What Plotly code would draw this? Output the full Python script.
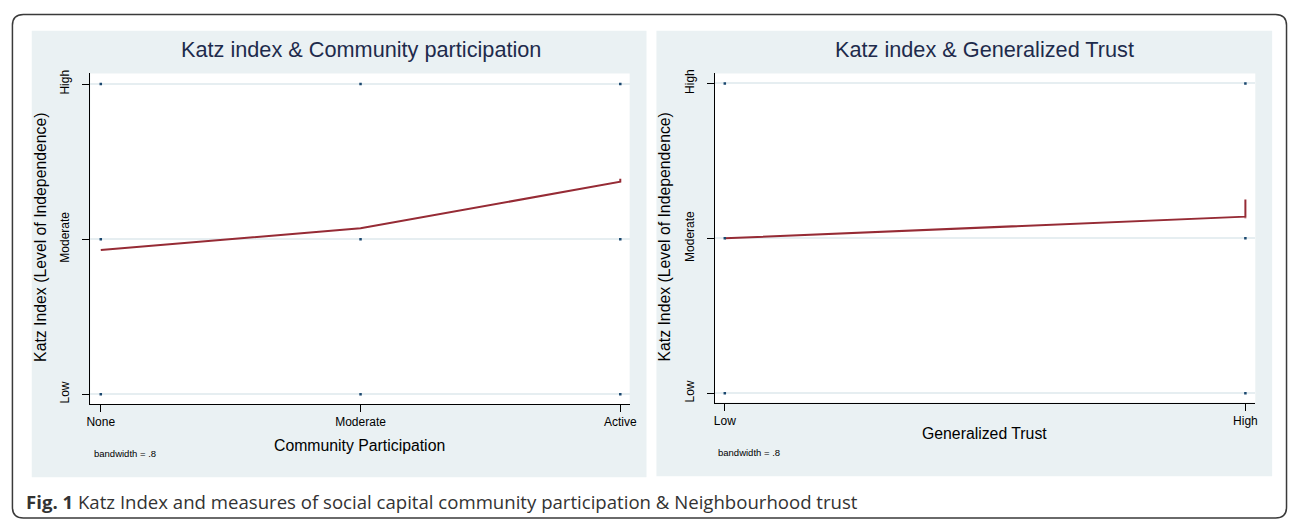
import plotly.graph_objects as go

# ---------------- data ----------------
levels = [1, 2, 3]
level_labels = ["Low", "Moderate", "High"]

cp_cats = [1, 2, 3]
cp_labels = ["None", "Moderate", "Active"]
cp_x = [1, 2, 3, 3]
cp_y = [1.93, 2.07, 2.37, 2.39]

gt_cats = [1, 2]
gt_labels = ["Low", "High"]
gt_x = [1, 2, 2, 2]
gt_y = [2.00, 2.14, 2.25, 2.13]

W, H = 1296, 520
def px(x): return x / W
def py(y): return 1 - y / H

LINE = "#962b35"
NAVY = "#1a476f"
PANEL = "#eaf1f3"
GRID = "#e6eef1"
FONT = "Arial"

fig = go.Figure()

# lowess lines
fig.add_trace(go.Scatter(x=cp_x, y=cp_y, mode="lines", line=dict(color=LINE, width=2),
                         xaxis="x", yaxis="y", showlegend=False, hoverinfo="skip"))
fig.add_trace(go.Scatter(x=gt_x, y=gt_y, mode="lines", line=dict(color=LINE, width=2),
                         xaxis="x2", yaxis="y2", showlegend=False, hoverinfo="skip"))

# tiny navy point markers at grid intersections
fig.add_trace(go.Scatter(x=[c for c in cp_cats for _ in levels], y=[l for _ in cp_cats for l in levels],
                         mode="markers", marker=dict(color=NAVY, size=2.5, symbol="square"),
                         xaxis="x", yaxis="y", showlegend=False, hoverinfo="skip"))
fig.add_trace(go.Scatter(x=[c for c in gt_cats for _ in levels], y=[l for _ in gt_cats for l in levels],
                         mode="markers", marker=dict(color=NAVY, size=2.5, symbol="square"),
                         xaxis="x2", yaxis="y2", showlegend=False, hoverinfo="skip"))

axis_common = dict(showline=True, linecolor="black", linewidth=1, ticks="outside", ticklen=7,
                   tickcolor="black", tickwidth=1, zeroline=False, mirror=False,
                   tickfont=dict(family=FONT, size=12, color="black"))

fig.update_layout(
    width=W, height=H, margin=dict(l=0, r=0, t=0, b=0),
    paper_bgcolor="white", plot_bgcolor="white",
    xaxis=dict(domain=[px(87), px(631)], range=[0.9595, 3.036], tickvals=cp_cats, ticktext=cp_labels,
               showgrid=False, anchor="y", **axis_common),
    yaxis=dict(domain=[py(403), py(70)], range=[0.938, 3.068], tickvals=levels, ticktext=level_labels,
               tickangle=-90, ticklabelstandoff=8, showgrid=True, gridcolor=GRID, gridwidth=1.5,
               anchor="x", **axis_common),
    xaxis2=dict(domain=[px(717), px(1262)], range=[0.981, 2.019], tickvals=gt_cats, ticktext=gt_labels,
                showgrid=False, anchor="y2", **axis_common),
    yaxis2=dict(domain=[py(401.7), py(70)], range=[0.94, 3.064], tickvals=levels, ticktext=level_labels,
                tickangle=-90, ticklabelstandoff=8, showgrid=True, gridcolor=GRID, gridwidth=1.5,
                anchor="x2", **axis_common),
)

# panel backgrounds and white plot areas
shapes = []
for (x0, y0, x1, y1) in [(28, 27, 648, 477), (658, 27, 1279, 476)]:
    shapes.append(dict(type="rect", xref="paper", yref="paper", x0=px(x0), x1=px(x1), y0=py(y1), y1=py(y0),
                       fillcolor=PANEL, line=dict(width=0), layer="below"))
for (x0, y0, x1, y1) in [(87, 70, 631, 403), (717, 70, 1262, 401.7)]:
    shapes.append(dict(type="rect", xref="paper", yref="paper", x0=px(x0), x1=px(x1), y0=py(y1), y1=py(y0),
                       fillcolor="white", line=dict(width=0), layer="below"))

# outer rounded border
L, T, R, B, r = 8.5, 10.5, 1293.5, 518, 11
pts = (f"M {px(L+r)},{py(T)} L {px(R-r)},{py(T)} Q {px(R)},{py(T)} {px(R)},{py(T+r)} "
       f"L {px(R)},{py(B-r)} Q {px(R)},{py(B)} {px(R-r)},{py(B)} "
       f"L {px(L+r)},{py(B)} Q {px(L)},{py(B)} {px(L)},{py(B-r)} "
       f"L {px(L)},{py(T+r)} Q {px(L)},{py(T)} {px(L+r)},{py(T)} Z")
shapes.append(dict(type="path", xref="paper", yref="paper", path=pts,
                   line=dict(color="#3a3a3a", width=1.5), fillcolor="rgba(0,0,0,0)", layer="above"))
fig.update_layout(shapes=shapes)

def ann(text, x, y, size, color="black", angle=0, xanchor="center", family=FONT):
    return dict(text=text, x=px(x), y=py(y), xref="paper", yref="paper", showarrow=False,
                xanchor=xanchor, yanchor="middle", textangle=angle,
                font=dict(family=family, size=size, color=color))

annotations = [
    ann("Katz index & Community participation", 360, 46, 21.7, "#1e2b4c"),
    ann("Katz index & Generalized Trust", 989, 46, 21.7, "#1e2b4c"),
    ann("Katz Index (Level of Independence)", 37, 235, 15.8, angle=-90),
    ann("Katz Index (Level of Independence)", 666, 235, 15.8, angle=-90),
    ann("Community Participation", 359, 445, 15.8),
    ann("Generalized Trust", 989, 433, 15.8),
    ann("bandwidth = .8", 89, 453, 9.5, xanchor="left"),
    ann("bandwidth = .8", 718, 452, 9.5, xanchor="left"),
    ann("<b>Fig. 1</b> Katz Index and measures of social capital community participation &amp; Neighbourhood trust",
        20, 501, 18.6, "#333333", xanchor="left", family="Open Sans"),
]
fig.update_layout(annotations=annotations)

fig.write_html("out.html", config={"displayModeBar": False},
               post_script="document.body.style.margin='0';document.body.style.overflow='hidden';")
